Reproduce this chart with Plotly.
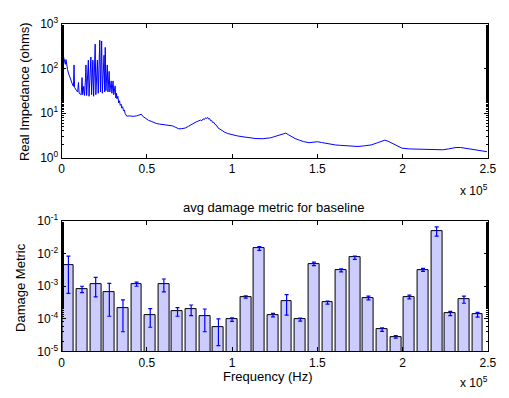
import plotly.graph_objects as go

# ---- top panel: real impedance vs frequency ----
imp_freq = [0, 300, 700, 1200, 1700, 2200, 2600, 3000, 3500, 4000, 4500, 5000, 5500, 6000, 6500, 7000,
            7300, 7600, 8200, 8800, 9400, 9900, 10300, 10900, 11500, 12000, 12400, 13000, 13500, 14000,
            14300, 14700, 15200, 15700, 16100, 16600, 17200, 17600, 18000, 18350, 18800, 19300, 19700,
            20100, 20600, 21000, 21500, 22000, 22400, 22800, 23200, 23500, 23900, 24400, 24900, 25300,
            25600, 26000, 26400, 26800, 27200, 27500, 27900, 28300, 28700, 29100, 29500, 29900, 30200,
            30600, 31000, 31400, 31800, 32200, 32500, 33000, 33500, 34000, 34400, 34900, 35300, 35800,
            36300, 36800, 37300, 38200, 40000, 42000, 44000, 45900, 46800, 47500, 48500, 49700, 51000,
            52500, 54000, 55500, 57300, 60000, 63000, 65000, 67000, 68800, 70500, 72600, 74500, 76400,
            78000, 79000, 80300, 81500, 82300, 83000, 83700, 84400, 85000, 85600, 86200, 86800, 87400,
            88000, 88600, 89200, 90000, 90800, 91700, 93000, 94500, 95600, 97500, 99400, 103000, 107000,
            110000, 114000, 118000, 120400, 122500, 124200, 126000, 128000, 130000, 131500, 133000,
            134700, 137000, 139500, 142000, 145200, 147500, 150000, 152500, 154800, 157500, 160600,
            163500, 166300, 170000, 173900, 177500, 181600, 185400, 187500, 189600, 191500, 194000,
            197000, 199700, 204000, 208300, 212000, 216000, 220000, 223600, 227000, 231300, 234000,
            237000, 240000, 242700, 245500, 248100, 249500]
imp_real = [420, 300, 230, 180, 150, 125, 160, 110, 95, 80, 70, 60, 55, 48, 43, 40,
            121, 38, 34, 32, 30, 49, 28, 27, 26, 63, 26, 40, 25, 60,
            121, 25, 80, 155, 24, 90, 183, 26, 100, 155, 24, 120, 355,
            26, 70, 155, 28, 120, 433, 30, 150, 417, 28, 90, 200, 30,
            300, 32, 60, 121, 30, 45, 87, 30, 42, 53, 28, 40, 53,
            26, 35, 41, 22, 28, 21, 24, 17, 19, 15, 16, 13, 14,
            11.4, 11.8, 9.8, 8.6, 8.7, 8.5, 8.7, 9.0, 9.5, 8.6, 8.0, 7.3, 6.9,
            6.6, 6.2, 5.9, 5.7, 5.5, 5.3, 5.2, 4.8, 4.45, 4.5, 4.66, 5.1, 5.7,
            6.1, 6.4, 6.7, 7.0, 6.8, 7.5, 7.2, 7.9, 7.6, 8.1, 7.4, 7.6, 6.8,
            6.9, 6.2, 6.3, 5.6, 5.4, 4.7, 4.3, 3.95, 3.76, 3.5, 3.34, 3.1, 2.93,
            2.8, 2.7, 2.68, 2.7, 2.8, 2.93, 3.1, 3.29, 3.45, 3.57, 3.3,
            3.02, 2.7, 2.48, 2.3, 2.18, 2.2, 2.29, 2.2, 2.10, 2.0, 1.94,
            1.9, 1.88, 1.83, 1.79, 1.85, 1.94, 2.18, 2.35, 2.48, 2.35, 2.1,
            1.85, 1.64, 1.58, 1.56, 1.53, 1.51, 1.51, 1.51, 1.58, 1.70, 1.70,
            1.64, 1.57, 1.51, 1.45, 1.39, 1.37]

# ---- bottom panel: damage metric per band ----
band_centers = [4000, 12000, 20000, 28000, 36000, 44000, 52000, 60000, 68000, 76000, 84000,
                92000, 100000, 108000, 116000, 124000, 132000, 140000, 148000, 156000, 164000,
                172000, 180000, 188000, 196000, 204000, 212000, 220000, 228000, 236000, 244000]
damage_mean = [4.5e-3, 8.2e-4, 1.17e-3, 6.7e-4, 2.1e-4, 1.17e-3, 1.3e-4, 1.17e-3, 1.7e-4, 1.95e-4,
               1.2e-4, 5.7e-5, 9.5e-5, 4.7e-4, 1.46e-2, 1.3e-4, 3.4e-4, 9.5e-5, 4.9e-3, 3.17e-4,
               3.1e-3, 7.6e-3, 4.4e-4, 4.7e-5, 2.8e-5, 4.7e-4, 3.2e-3, 5.07e-2, 1.48e-4, 4.0e-4, 1.35e-4]
damage_err = [3.9e-3, 1.8e-4, 7e-4, 5.5e-4, 1.7e-4, 1.7e-4, 7.5e-5, 5e-4, 5e-5, 7e-5,
              8e-5, 4.2e-5, 1.2e-5, 4e-5, 2e-3, 1.6e-5, 2.1e-4, 1e-5, 6e-4, 3.5e-5,
              3.5e-4, 9e-4, 6e-5, 6e-6, 2.5e-6, 6e-5, 3.5e-4, 1.6e-2, 2.2e-5, 1e-4, 2.2e-5]
band_width = 6400

x_tickvals = [0, 50000, 100000, 150000, 200000, 250000]
x_ticktext = ["0", "0.5", "1", "1.5", "2", "2.5"]

W, H = 509, 398
FONT = "Liberation Sans, Arial, sans-serif"
TICK = 12
LBL = 13

fig = go.Figure()
fig.add_trace(go.Scatter(x=imp_freq, y=imp_real, mode="lines",
                         line=dict(color="#0000ff", width=1), xaxis="x", yaxis="y",
                         showlegend=False))
fig.add_trace(go.Bar(x=band_centers, y=damage_mean, width=band_width,
                     marker=dict(color="#ccccff", line=dict(color="black", width=1)),
                     error_y=dict(type="data", array=damage_err, visible=True,
                                  color="#0000ff", thickness=1.2, width=2),
                     xaxis="x2", yaxis="y2", showlegend=False))

xd = [60 / W, 496.5 / W]
axcommon = dict(showline=True, linecolor="black", linewidth=1, mirror="ticks",
                ticks="inside", ticklen=4, tickcolor="black", showgrid=False, zeroline=False,
                tickfont=dict(family=FONT, size=TICK, color="black"))

yt1 = [1, 10, 100, 1000]
yt2 = [1e-5, 1e-4, 1e-3, 1e-2, 1e-1]

fig.update_layout(
    width=W, height=H, margin=dict(l=0, r=0, t=0, b=0),
    paper_bgcolor="white", plot_bgcolor="white",
    font=dict(family=FONT, size=TICK, color="black"),
    bargap=0,
    xaxis=dict(domain=xd, anchor="y", range=[0, 250000], tickvals=x_tickvals,
               ticktext=x_ticktext, **axcommon),
    yaxis=dict(domain=[1 - 155 / H, 1 - 15.7 / H], anchor="x", type="log", range=[0, 3],
               tickvals=yt1, ticktext=["10<sup>0</sup>", "10<sup>1</sup>", "10<sup>2</sup>", "10<sup>3</sup>"],
               minor=dict(ticks="inside", ticklen=2, tickcolor="black"),
               **axcommon),
    xaxis2=dict(domain=xd, anchor="y2", range=[0, 250000], tickvals=x_tickvals,
                ticktext=x_ticktext, **axcommon),
    yaxis2=dict(domain=[1 - 356.7 / H, 1 - 221 / H], anchor="x2", type="log", range=[-5, -1],
                tickvals=yt2,
                ticktext=["10<sup>-5</sup>", "10<sup>-4</sup>", "10<sup>-3</sup>", "10<sup>-2</sup>", "10<sup>-1</sup>"],
                minor=dict(ticks="inside", ticklen=2, tickcolor="black"),
                **axcommon),
)

def ann(text, px, py, angle=0, size=LBL):
    fig.add_annotation(text=text, x=px / W, y=1 - py / H, xref="paper", yref="paper",
                       showarrow=False, textangle=angle, xanchor="center", yanchor="middle",
                       font=dict(family=FONT, size=size, color="black"))

ann("Real Impedance (ohms)", 22, 86, angle=-90)
ann("Damage Metric", 18, 290, angle=-90)
ann("avg damage metric for baseline", 277, 207)
ann("Frequency (Hz)", 271, 383)
ann("x 10<sup>5</sup>", 482, 189, size=TICK)
ann("x 10<sup>5</sup>", 482, 389, size=TICK)

fig.write_html("out.html")
